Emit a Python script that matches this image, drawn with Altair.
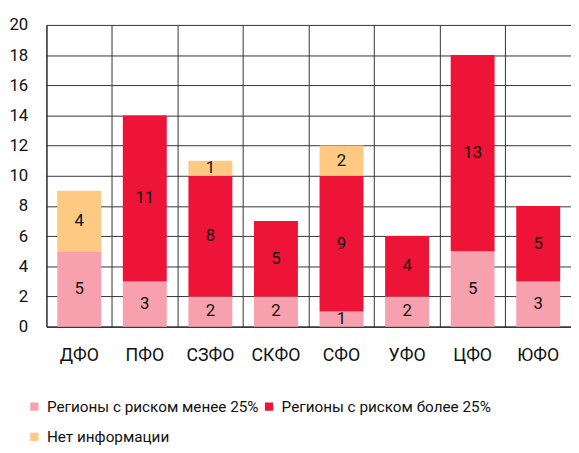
import altair as alt
import pandas as pd

categories = ["ДФО", "ПФО", "СЗФО", "СКФО", "СФО", "УФО", "ЦФО", "ЮФО"]
series_names = ["Регионы с риском менее 25%", "Регионы с риском более 25%", "Нет информации"]
low_risk = [5, 3, 2, 2, 1, 2, 5, 3]
high_risk = [0, 11, 8, 5, 9, 4, 13, 5]
no_info = [4, 0, 1, 0, 2, 0, 0, 0]
y_ticks = [0, 2, 4, 6, 8, 10, 12, 14, 16, 18, 20]
colors = ["#F6A1AD", "#EE1438", "#FDC983"]

rows = []
for i, c in enumerate(categories):
    for k, vals in enumerate([low_risk, high_risk, no_info]):
        rows.append({"cat": c, "series": series_names[k], "order": k, "value": vals[i]})
df = pd.DataFrame(rows)

# legend fills column-wise: put items so that row 1 = low, high; row 2 = no info
legend_domain = [series_names[0], series_names[2], series_names[1]]
legend_range = [colors[0], colors[2], colors[1]]

FONT = "Roboto, sans-serif"

x_axis = alt.Axis(labelAngle=0, ticks=False, grid=True, bandPosition=0,
                  gridColor="#333", gridWidth=1, domainColor="#222",
                  domainWidth=1.5, labelPadding=20, labelFontSize=18,
                  labelColor="#111", labelFont=FONT, title=None)
y_axis = alt.Axis(values=y_ticks, ticks=False, grid=True,
                  gridColor="#333", gridWidth=1, domainColor="#222",
                  labelOverlap=False, labelPadding=19, labelFontSize=17,
                  labelColor="#111", labelFont=FONT, title=None)
x_scale = alt.Scale(paddingInner=0, paddingOuter=0)
y_scale = alt.Scale(domain=[0, 20])

bars = alt.Chart(df).mark_bar(width=alt.RelativeBandSize(0.67)).encode(
    x=alt.X("cat:N", sort=categories, scale=x_scale, axis=x_axis),
    y=alt.Y("value:Q", stack="zero", scale=y_scale, axis=y_axis),
    color=alt.Color("series:N",
                    scale=alt.Scale(domain=legend_domain, range=legend_range),
                    legend=alt.Legend(title=None, orient="none", legendX=-20, legendY=379,
                                      columns=2, columnPadding=2, rowPadding=14,
                                      symbolType="square", symbolSize=70,
                                      symbolStrokeWidth=0, labelFontSize=15.5,
                                      labelFont=FONT, labelColor="#111",
                                      labelLimit=400, labelOffset=5)),
    order=alt.Order("order:Q"),
)

text = alt.Chart(df).transform_filter(alt.datum.value > 0).transform_stack(
    stack="value", groupby=["cat"], as_=["y0", "y1"],
    sort=[alt.SortField("order", "ascending")]
).transform_calculate(mid="(datum.y0 + datum.y1) / 2").mark_text(
    fontSize=17, font=FONT, color="#111"
).encode(
    x=alt.X("cat:N", sort=categories, scale=x_scale, axis=x_axis),
    y=alt.Y("mid:Q", scale=y_scale, axis=y_axis),
    text="value:Q",
)

chart = alt.layer(bars, text).properties(
    width=532, height=306,
    autosize=alt.AutoSizeParams(type="none"),
    padding={"left": 39, "top": 14, "right": 0, "bottom": 125},
).configure_view(strokeWidth=0)

chart.save("out.html", embed_options={"renderer": "svg", "actions": False})
